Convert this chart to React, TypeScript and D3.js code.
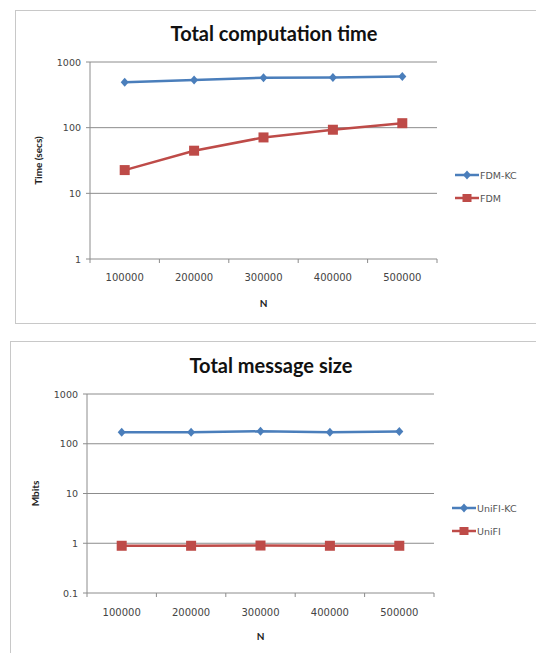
import React from "react";
import * as d3 from "d3";

const categories = ["100000", "200000", "300000", "400000", "500000"];
const fdmKc = [490, 530, 575, 580, 600];
const fdm = [22.6, 44.6, 71, 93, 117];
const unifiKc = [170, 170, 178, 170, 177];
const unifi = [0.89, 0.89, 0.9, 0.89, 0.89];
const ticksTop = [1, 10, 100, 1000];
const ticksBottom = [0.1, 1, 10, 100, 1000];

const BLUE = "#4a7ebb";
const RED = "#be4b48";
const GRID = "#8c8c8c";
const FONT = "Lato, 'Open Sans', sans-serif";
const TICKFONT = "'DejaVu Sans', sans-serif";

type Series = { name: string; values: number[]; color: string; marker: "diamond" | "square" };

function Chart(props: {
  frame: { x: number; y: number; w: number; h: number };
  plot: { l: number; r: number; t: number; b: number };
  domain: [number, number];
  ticks: number[];
  title: string;
  titleX: number;
  titleY: number;
  yLabel: string;
  yLabelX: number;
  xLabelY: number;
  tickLabelY: number;
  series: Series[];
  legendX: number;
  legendY: number[];
}) {
  const { plot } = props;
  const x = d3.scaleBand<string>().domain(categories).range([plot.l, plot.r]);
  const y = d3.scaleLog().domain(props.domain).range([plot.b, plot.t]);
  const line = d3
    .line<number>()
    .x((_, i) => (x(categories[i]) as number) + x.bandwidth() / 2)
    .y((d) => y(d));
  const marker = (s: Series, cx: number, cy: number, key: any, small = false) =>
    s.marker === "diamond" ? (
      <path key={key} d={`M${cx},${cy - 4.5}L${cx + 4},${cy}L${cx},${cy + 4.5}L${cx - 4},${cy}Z`} fill={s.color} />
    ) : (
      <rect key={key} x={cx - (small ? 4.5 : 5)} y={cy - (small ? 4 : 5)} width={small ? 9 : 10} height={small ? 8 : 10} fill={s.color} />
    );
  const bounds = [...categories.map((c) => x(c) as number), plot.r];
  return (
    <g>
      <rect x={props.frame.x} y={props.frame.y} width={props.frame.w} height={props.frame.h} fill="#fff" stroke="#c8c8c8" strokeWidth={1} />
      <text x={props.titleX} y={props.titleY} textAnchor="middle" dominantBaseline="central" fontFamily={FONT} fontWeight="bold" fontSize={20} fill="#111">
        {props.title}
      </text>
      {props.ticks.map((t) => (
        <g key={t}>
          <line x1={plot.l - 4} x2={plot.r} y1={y(t)} y2={y(t)} stroke={GRID} strokeWidth={1} />
          <text x={plot.l - 9} y={y(t)} textAnchor="end" dominantBaseline="central" fontFamily={TICKFONT} fontSize={9.5} fill="#444">
            {String(t)}
          </text>
        </g>
      ))}
      <line x1={plot.l} x2={plot.l} y1={plot.t} y2={plot.b} stroke={GRID} />
      {bounds.map((bx, i) => (
        <line key={i} x1={bx} x2={bx} y1={plot.b} y2={plot.b + 4} stroke={GRID} />
      ))}
      {categories.map((c) => (
        <text key={c} x={(x(c) as number) + x.bandwidth() / 2} y={props.tickLabelY} textAnchor="middle" dominantBaseline="central" fontFamily={TICKFONT} fontSize={10} fill="#444">
          {c}
        </text>
      ))}
      <text x={(plot.l + plot.r) / 2} y={props.xLabelY} textAnchor="middle" dominantBaseline="central" fontFamily={FONT} fontWeight="bold" fontSize={10} fill="#222">
        N
      </text>
      <text
        transform={`translate(${props.yLabelX},${(plot.t + plot.b) / 2}) rotate(-90)`}
        textAnchor="middle"
        dominantBaseline="central"
        fontFamily={FONT}
        fontWeight="bold"
        fontSize={10}
        fill="#222"
      >
        {props.yLabel}
      </text>
      {props.series.map((s) => (
        <g key={s.name}>
          <path d={line(s.values) as string} fill="none" stroke={s.color} strokeWidth={2.5} />
          {s.values.map((v, i) => marker(s, (x(categories[i]) as number) + x.bandwidth() / 2, y(v), i))}
        </g>
      ))}
      {props.series.map((s, i) => (
        <g key={"lg" + s.name}>
          <line x1={props.legendX} x2={props.legendX + 24} y1={props.legendY[i]} y2={props.legendY[i]} stroke={s.color} strokeWidth={2.5} />
          {marker(s, props.legendX + 12, props.legendY[i], "m", true)}
          <text x={props.legendX + 25} y={props.legendY[i]} dominantBaseline="central" fontFamily={TICKFONT} fontSize={9.5} fill="#555">
            {s.name}
          </text>
        </g>
      ))}
    </g>
  );
}

export default function App() {
  return (
    <svg width={536} height={653} style={{ position: "absolute", left: 0, top: 0 }}>
      <rect width={536} height={653} fill="#fff" />
      <Chart
        frame={{ x: 15.5, y: 10.5, w: 530, h: 313 }}
        plot={{ l: 90, r: 437, t: 62, b: 259 }}
        domain={[1, 1000]}
        ticks={ticksTop}
        title="Total computation time"
        titleX={274}
        titleY={33}
        yLabel="Time (secs)"
        yLabelX={38}
        xLabelY={303}
        tickLabelY={277}
        series={[
          { name: "FDM-KC", values: fdmKc, color: BLUE, marker: "diamond" },
          { name: "FDM", values: fdm, color: RED, marker: "square" },
        ]}
        legendX={455}
        legendY={[175, 198]}
      />
      <Chart
        frame={{ x: 10.5, y: 341.5, w: 540, h: 330 }}
        plot={{ l: 87, r: 434, t: 394, b: 593 }}
        domain={[0.1, 1000]}
        ticks={ticksBottom}
        title="Total message size"
        titleX={271}
        titleY={365}
        yLabel="Mbits"
        yLabelX={35}
        xLabelY={636}
        tickLabelY={612}
        series={[
          { name: "UniFI-KC", values: unifiKc, color: BLUE, marker: "diamond" },
          { name: "UniFI", values: unifi, color: RED, marker: "square" },
        ]}
        legendX={452}
        legendY={[508, 531]}
      />
    </svg>
  );
}
